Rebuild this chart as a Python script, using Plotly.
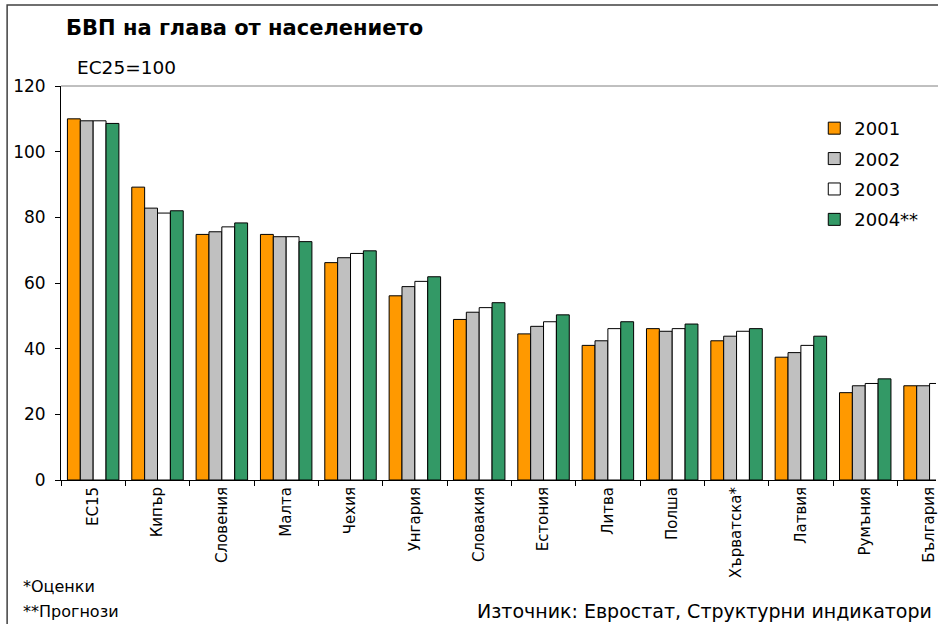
import plotly.graph_objects as go

categories = ["ЕС15", "Кипър", "Словения", "Малта", "Чехия", "Унгария", "Словакия",
              "Естония", "Литва", "Полша", "Хърватска*", "Латвия", "Румъния", "България"]
years = ["2001", "2002", "2003", "2004**"]
v2001 = [110.0, 89.2, 74.8, 74.8, 66.2, 56.1, 48.9, 44.5, 41.0, 46.1, 42.4, 37.4, 26.6, 28.7]
v2002 = [109.4, 82.8, 75.6, 74.1, 67.7, 58.9, 51.1, 46.8, 42.4, 45.3, 43.8, 38.8, 28.7, 28.7]
v2003 = [109.4, 81.3, 77.1, 74.1, 69.0, 60.5, 52.5, 48.2, 46.1, 46.1, 45.3, 41.0, 29.4, 29.4]
v2004 = [108.6, 82.0, 78.3, 72.6, 69.8, 61.9, 54.0, 50.3, 48.2, 47.5, 46.1, 43.8, 30.8, 30.8]
series = [v2001, v2002, v2003, v2004]
colors = ["#FF9900", "#C0C0C0", "#FFFFFF", "#339966"]
y_ticks = [0, 20, 40, 60, 80, 100, 120]

FONT = "DejaVu Sans, Verdana, sans-serif"

fig = go.Figure()
for name, vals, col in zip(years, series, colors):
    fig.add_trace(go.Bar(
        x=categories, y=vals, name=name, legendgroup=name,
        marker=dict(color=col, line=dict(color="#000000", width=1)),
    ))

W, H = 938, 624
L, T, B = 61, 86, 143.5
PH = H - T - B
PW = W - L

def px(x):
    return (x - L) / PW

def py(y):
    return (H - B - y) / PH

fig.update_layout(
    width=W, height=H,
    margin=dict(l=L, r=0, t=T, b=B),
    paper_bgcolor="white", plot_bgcolor="white",
    barmode="group", bargap=0.2, bargroupgap=0,
    font=dict(family=FONT, color="#000000"),
    showlegend=True,
    legend=dict(
        x=px(816), y=py(110), xanchor="left", yanchor="top",
        font=dict(size=18, family=FONT),
        traceorder="grouped", tracegroupgap=4,
        bgcolor="rgba(0,0,0,0)", borderwidth=0,
    ),
    xaxis=dict(
        range=[-0.5, 13.1], type="category",
        showline=True, linecolor="#000000", linewidth=1,
        ticks="outside", ticklen=5, tickcolor="#000000", tickson="boundaries",
        tickangle=-90, tickfont=dict(size=15, family=FONT),
        showgrid=False, zeroline=False,
    ),
    yaxis=dict(
        range=[0, 120], tickvals=y_ticks,
        showline=True, linecolor="#000000", linewidth=1,
        ticks="outside", ticklen=5, tickcolor="#000000",
        tickfont=dict(size=17, family=FONT), ticklabelstandoff=6,
        showgrid=False, zeroline=False,
    ),
    shapes=[
        dict(type="line", xref="paper", yref="paper", x0=0, x1=1.05, y0=1, y1=1,
             line=dict(color="#808080", width=1)),
        dict(type="rect", xref="paper", yref="paper", x0=px(7), x1=px(960),
             y0=py(5), y1=py(640), line=dict(color="#404040", width=1.5),
             fillcolor="rgba(0,0,0,0)", layer="below"),
    ],
    annotations=[
        dict(text="<b>БВП на глава от населението</b>", xref="paper", yref="paper",
             x=px(64), y=py(28), xanchor="left", yanchor="middle", showarrow=False,
             font=dict(size=21, family=FONT)),
        dict(text="ЕС25=100", xref="paper", yref="paper",
             x=px(75), y=py(67), xanchor="left", yanchor="middle", showarrow=False,
             font=dict(size=18.5, family=FONT)),
        dict(text="*Оценки", xref="paper", yref="paper",
             x=px(21), y=py(587), xanchor="left", yanchor="middle", showarrow=False,
             font=dict(size=16, family=FONT)),
        dict(text="**Прогнози", xref="paper", yref="paper",
             x=px(21), y=py(612), xanchor="left", yanchor="middle", showarrow=False,
             font=dict(size=16, family=FONT)),
        dict(text="Източник: Евростат, Структурни индикатори", xref="paper", yref="paper",
             x=px(936), y=py(612), xanchor="right", yanchor="middle", showarrow=False,
             font=dict(size=19, family=FONT)),
    ],
)

fig.write_html("out.html", config={"displayModeBar": False},
               post_script="document.body.style.margin='0';document.body.style.overflow='hidden';")
